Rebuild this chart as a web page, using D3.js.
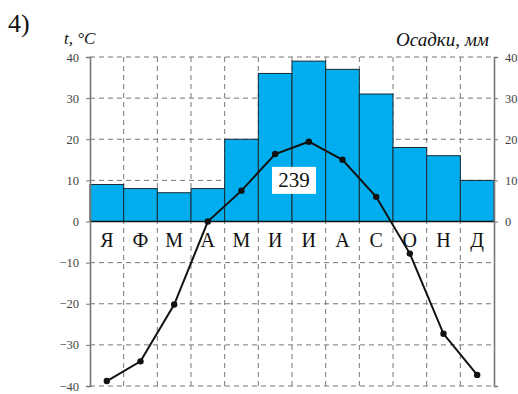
<!DOCTYPE html>
<html>
<head>
<meta charset="utf-8">
<script src="https://cdnjs.cloudflare.com/ajax/libs/d3/7.8.5/d3.min.js"></script>
<style>
  body { margin: 0; background: #fff; }
  text { font-family: "Liberation Serif", "DejaVu Serif", serif; }
</style>
</head>
<body>
<svg id="chart" width="518" height="394"></svg>
<script>
"use strict";

// month labels
const months = ["Я", "Ф", "М", "А", "М", "И", "И", "А", "С", "О", "Н", "Д"];
// precipitation, mm
const precip = [9, 8, 7, 8, 20, 36, 39, 37, 31, 18, 16, 10];
// temperature, °C
const temps = [-38.8, -34, -20.2, 0, 7.5, 16.4, 19.4, 15, 6, -7.8, -27.3, -37.3];
const leftTicks = [40, 30, 20, 10, 0, -10, -20, -30, -40];
const rightTicks = [40, 30, 20, 10, 0];
const annualTotal = "239";

const serif = "Liberation Serif, DejaVu Serif, serif";
const svg = d3.select("#chart");

let margin = {left: 90, right: 24, top: 57, bottom: 8},
  width = 518 - margin.left - margin.right,
  height = 394 - margin.top - margin.bottom,
  g = svg.append("g").attr("transform", "translate(" + margin.left + "," + margin.top + ")"),
  x = d3.scaleBand().domain(d3.range(12)).range([0, width]),
  y = d3.scaleLinear().domain([-40, 40]).range([height, 0])
;

// horizontal dashed grid
g.append("g")
  .selectAll("line")
  .data(leftTicks)
  .enter().append("line")
    .attr("x1", 0).attr("x2", width)
    .attr("y1", d => y(d)).attr("y2", d => y(d))
    .attr("stroke", "#777").attr("stroke-width", 1)
    .attr("stroke-dasharray", "5,4");

// vertical dashed grid at month boundaries
g.append("g")
  .selectAll("line")
  .data(d3.range(1, 12))
  .enter().append("line")
    .attr("x1", d => x(d)).attr("x2", d => x(d))
    .attr("y1", y(40)).attr("y2", y(-40))
    .attr("stroke", "#777").attr("stroke-width", 1)
    .attr("stroke-dasharray", "5,4");

// precipitation bars
g.selectAll(".bar")
  .data(precip)
  .enter().append("rect")
    .attr("class", "bar")
    .attr("x", (d, i) => x(i))
    .attr("y", d => y(d))
    .attr("width", x.bandwidth())
    .attr("height", d => y(0) - y(d))
    .attr("fill", "#00aeef")
    .attr("stroke", "#1a2a30")
    .attr("stroke-width", 1);

// zero line
g.append("line")
  .attr("x1", 0).attr("x2", width)
  .attr("y1", y(0)).attr("y2", y(0))
  .attr("stroke", "#111").attr("stroke-width", 1.3);

// left axis
g.append("g")
  .attr("font-family", serif)
  .call(d3.axisLeft(y).tickValues(leftTicks).tickSize(4).tickPadding(7))
  .attr("font-family", serif)
  .attr("font-size", 12.5)
  .call(a => a.select(".domain").attr("stroke", "#777").attr("stroke-width", 1.6))
  .call(a => a.selectAll(".tick line").attr("stroke", "#777"))
  .call(a => a.selectAll("text").attr("fill", "#444"));

// right axis
g.append("g")
  .attr("transform", "translate(" + width + ",0)")
  .call(d3.axisRight(y).tickValues(rightTicks).tickSize(4).tickPadding(7))
  .attr("font-family", serif)
  .attr("font-size", 12.5)
  .call(a => a.select(".domain").attr("stroke", "#777").attr("stroke-width", 1.6))
  .call(a => a.selectAll(".tick line").attr("stroke", "#777"))
  .call(a => a.selectAll("text").attr("fill", "#444"));

// month labels
g.selectAll(".month")
  .data(months)
  .enter().append("text")
    .attr("class", "month")
    .attr("x", (d, i) => x(i) + x.bandwidth() / 2)
    .attr("y", y(0) + 25)
    .attr("text-anchor", "middle")
    .attr("font-size", 20)
    .attr("fill", "#111")
    .text(d => d);

// temperature line
let line = d3.line()
  .x((d, i) => x(i) + x.bandwidth() / 2)
  .y(d => y(d));

g.append("path")
  .datum(temps)
  .attr("d", line)
  .attr("fill", "none")
  .attr("stroke", "#111")
  .attr("stroke-width", 2);

g.selectAll(".dot")
  .data(temps)
  .enter().append("circle")
    .attr("cx", (d, i) => x(i) + x.bandwidth() / 2)
    .attr("cy", d => y(d))
    .attr("r", 3.2)
    .attr("fill", "#111");

// annual total label
let lx = x(6) + 2, ly = y(10);
g.append("rect")
  .attr("x", lx - 22).attr("y", ly - 13.5)
  .attr("width", 44).attr("height", 27)
  .attr("fill", "#fff");
g.append("text")
  .attr("x", lx).attr("y", ly + 7)
  .attr("text-anchor", "middle")
  .attr("font-family", serif)
  .attr("font-size", 21)
  .attr("fill", "#111")
  .text(annualTotal);

// titles
svg.append("text").attr("x", 8).attr("y", 32)
  .attr("font-size", 26).attr("fill", "#111").text("4)");
svg.append("text").attr("x", 64).attr("y", 44)
  .attr("font-size", 17).attr("font-style", "italic").attr("fill", "#111").text("t, °C");
svg.append("text").attr("x", 489).attr("y", 46)
  .attr("text-anchor", "end")
  .attr("font-size", 19).attr("font-style", "italic").attr("fill", "#111").text("Осадки, мм");
</script>
</body>
</html>
